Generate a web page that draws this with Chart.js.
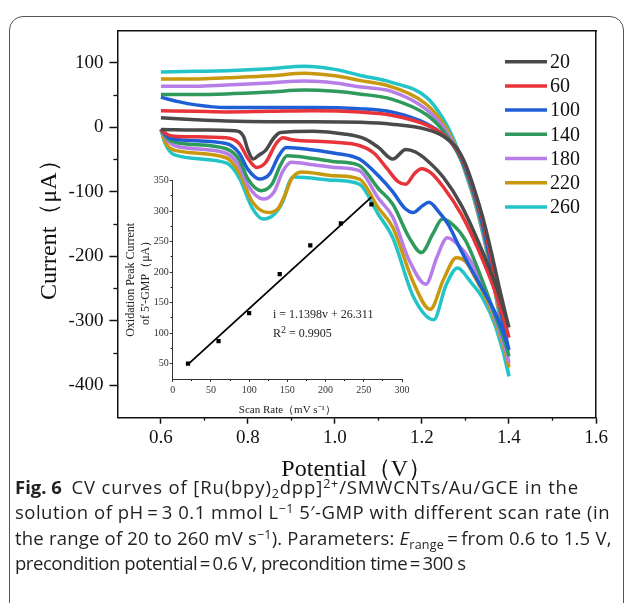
<!DOCTYPE html>
<html>
<head>
<meta charset="utf-8">
<script src="https://cdn.jsdelivr.net/npm/chart.js@4.4.1/dist/chart.umd.min.js"></script>
<style>
  html, body { margin: 0; padding: 0; background: #fff; }
  body { width: 630px; height: 603px; position: relative; overflow: hidden; }
  #frame {
    position: absolute; left: 9px; top: 16px; width: 615px; height: 640px;
    border: 1.5px solid #555; border-radius: 14px; box-sizing: border-box;
  }
  #main { position: absolute; left: 0; top: 0; }
  #inset { position: absolute; left: 110px; top: 160px; }
  .eq {
    position: absolute; font-family: "Liberation Serif", serif; font-size: 12px;
    line-height: 14px; color: #222; white-space: nowrap;
  }
  .eq sup { font-size: 10px; line-height: 0; vertical-align: 4px; }
  #caption {
    position: absolute; left: 15px; top: 474px; font-family: "Open Sans", sans-serif;
    font-size: 18.5px; line-height: 25.3px; color: #231f20; white-space: nowrap;
  }
  #caption div { height: 25.3px; }
  #caption sup, #caption sub { font-size: 12.5px; line-height: 0; }
  #caption sup { vertical-align: 6px; }
  #caption sub { vertical-align: -4px; }
</style>
</head>
<body>
<div id="frame"></div>
<canvas id="main" width="630" height="490"></canvas>
<canvas id="inset" width="310" height="265"></canvas>
<div class="eq" style="left:273px; top:307px;">i = 1.1398v + 26.311</div>
<div class="eq" style="left:273px; top:326px;">R<sup>2</sup> = 0.9905</div>
<div id="caption">
  <div><b>Fig. 6</b>&nbsp; <span style="letter-spacing:0.85px">CV curves of [Ru(bpy)<sub>2</sub>dpp]<sup>2+</sup>/SMWCNTs/Au/GCE in the</span></div>
  <div style="letter-spacing:0.5px">solution of pH&#8201;=&#8201;3 0.1 mmol L<sup>−1</sup> 5′-GMP with different scan rate (in</div>
  <div style="letter-spacing:0.2px">the range of 20 to 260 mV s<sup>−1</sup>). Parameters: <i>E</i><sub>range</sub>&#8201;=&#8201;from 0.6 to 1.5 V,</div>
  <div style="letter-spacing:-0.45px">precondition potential&#8201;=&#8201;0.6 V, precondition time&#8201;=&#8201;300 s</div>
</div>

<script>
// scan rates (mV/s) and their colours
const rates = [20, 60, 100, 140, 180, 220, 260];
const colors = ['#4a4a4a', '#e8333b', '#1f5fd6', '#2e9b5c', '#b67ee6', '#c8980e', '#22c4c8'];

// axis ticks of the main plot
const potentialTicks = [0.6, 0.8, 1.0, 1.2, 1.4, 1.6];
const potentialMinor = [0.7, 0.9, 1.1, 1.3, 1.5];
const currentTicks = [-400, -300, -200, -100, 0, 100];
const currentMinor = [-350, -250, -150, -50, 50];

// CV curves: forward scan 0.6 -> 1.4 V, reverse scan 1.4 -> 0.6 V, [V, uA]
const fwd20 = [[0.6,-3],[0.7,-4],[0.77,-5],[0.79,-14],[0.80,-35],[0.812,-49],[0.825,-43],[0.84,-36],[0.86,-16],[0.875,-8],[0.95,-6],[1.02,-10],[1.07,-18],[1.10,-31],[1.133,-49],[1.163,-34],[1.185,-38],[1.21,-50],[1.25,-78],[1.29,-120],[1.33,-178],[1.37,-245],[1.40,-310]];
const rev20 = [[1.38,-255],[1.36,-195],[1.34,-140],[1.32,-95],[1.30,-57],[1.28,-32],[1.25,-14],[1.21,-3],[1.13,5],[1.06,8],[0.95,9],[0.85,9],[0.75,10],[0.68,12],[0.6,15]];

const fwd60 = [[0.6,-3],[0.615,-11],[0.64,-14],[0.75,-16],[0.78,-25],[0.80,-48],[0.82,-62],[0.84,-55],[0.865,-25],[0.88,-16],[0.90,-19],[1.0,-23],[1.056,-28],[1.09,-40],[1.12,-64],[1.145,-84],[1.163,-88],[1.182,-72],[1.199,-64],[1.22,-70],[1.25,-93],[1.29,-134],[1.33,-190],[1.37,-258],[1.40,-326]];
const rev60 = [[1.38,-270],[1.36,-205],[1.34,-145],[1.32,-98],[1.30,-60],[1.28,-34],[1.25,-12],[1.21,4],[1.13,19],[1.056,24],[0.95,26],[0.85,25],[0.75,24],[0.68,25],[0.6,26]];

const fwd100 = [[0.6,-3],[0.615,-14],[0.64,-19],[0.75,-25],[0.78,-40],[0.80,-65],[0.827,-80],[0.85,-72],[0.87,-45],[0.888,-31],[0.95,-35],[1.0,-40],[1.056,-49],[1.10,-75],[1.133,-100],[1.16,-125],[1.18,-132],[1.20,-122],[1.216,-116],[1.24,-132],[1.26,-150],[1.29,-191],[1.33,-240],[1.37,-290],[1.40,-345]];
const rev100 = [[1.38,-280],[1.36,-215],[1.34,-152],[1.32,-102],[1.30,-63],[1.28,-35],[1.25,-12],[1.21,6],[1.13,24],[1.056,29],[0.95,31],[0.85,31],[0.75,31],[0.68,35],[0.64,40],[0.6,47]];

const fwd140 = [[0.6,-3],[0.615,-17],[0.64,-24],[0.75,-33],[0.78,-50],[0.80,-80],[0.83,-98],[0.855,-88],[0.875,-58],[0.89,-44],[0.95,-48],[1.0,-53],[1.056,-59],[1.10,-95],[1.133,-119],[1.17,-170],[1.199,-194],[1.225,-165],[1.247,-142],[1.27,-150],[1.30,-175],[1.33,-222],[1.37,-295],[1.40,-355]];
const rev140 = [[1.38,-285],[1.36,-220],[1.34,-157],[1.32,-106],[1.30,-66],[1.28,-37],[1.25,-6],[1.21,20],[1.13,44],[1.056,52],[1.0,56],[0.93,58],[0.85,55],[0.75,52],[0.68,51],[0.6,51]];

const fwd180 = [[0.6,-3],[0.615,-20],[0.64,-30],[0.75,-40],[0.78,-60],[0.80,-90],[0.835,-111],[0.86,-100],[0.88,-68],[0.90,-54],[0.95,-58],[1.0,-62],[1.056,-67],[1.10,-110],[1.133,-139],[1.17,-205],[1.209,-243],[1.235,-200],[1.258,-171],[1.28,-180],[1.31,-205],[1.34,-245],[1.37,-300],[1.40,-365]];
const rev180 = [[1.38,-290],[1.36,-222],[1.34,-160],[1.32,-108],[1.30,-67],[1.28,-35],[1.25,0],[1.21,28],[1.13,56],[1.056,63],[1.0,69],[0.93,72],[0.85,69],[0.75,66],[0.68,64],[0.6,64]];

const fwd220 = [[0.6,-3],[0.612,-25],[0.635,-36],[0.75,-47],[0.78,-70],[0.81,-115],[0.846,-132],[0.87,-125],[0.885,-105],[0.90,-80],[0.923,-69],[1.0,-75],[1.056,-80],[1.10,-125],[1.133,-155],[1.18,-240],[1.219,-282],[1.25,-235],[1.279,-202],[1.30,-208],[1.32,-230],[1.36,-285],[1.40,-372]];
const rev220 = [[1.38,-295],[1.36,-225],[1.34,-162],[1.32,-110],[1.30,-68],[1.28,-33],[1.25,5],[1.21,36],[1.13,63],[1.056,73],[1.0,80],[0.93,84],[0.85,80],[0.75,77],[0.68,75],[0.6,75]];

const fwd260 = [[0.6,-3],[0.61,-25],[0.63,-42],[0.75,-55],[0.78,-78],[0.81,-125],[0.835,-142],[0.86,-135],[0.88,-115],[0.895,-85],[0.905,-77],[1.0,-82],[1.056,-88],[1.10,-135],[1.133,-171],[1.18,-262],[1.227,-298],[1.255,-245],[1.282,-218],[1.31,-238],[1.34,-265],[1.37,-310],[1.40,-386]];
const rev260 = [[1.38,-300],[1.36,-228],[1.34,-165],[1.32,-112],[1.30,-70],[1.28,-30],[1.25,12],[1.21,47],[1.13,70],[1.056,81],[1.0,90],[0.93,95],[0.85,91],[0.75,88],[0.68,87],[0.6,86]];

const forward = [fwd20, fwd60, fwd100, fwd140, fwd180, fwd220, fwd260];
const reverse = [rev20, rev60, rev100, rev140, rev180, rev220, rev260];

// inset: oxidation peak current vs scan rate
const insetRates = [20, 60, 100, 140, 180, 220, 260];
const insetPeak = [50, 87, 133, 197, 244, 280, 311];
const fitRates = [20, 260];
const fitPeak = [49, 323];
const insetXTicks = [0, 50, 100, 150, 200, 250, 300];
const insetXMinor = [25, 75, 125, 175, 225, 275];
const insetYTicks = [50, 100, 150, 200, 250, 300, 350];
const insetYMinor = [75, 125, 175, 225, 275, 325];

const SERIF = '"Liberation Serif", "Times New Roman", serif';
const INK = '#111';

function useTicks(list) {
    return scale => { scale.ticks = list.map(v => ({ value: v })); };
}

// main axis with labels
function mainAxis(pos, o) {
    return Object.assign({
        type: 'linear', position: pos, weight: 1,
        ticks: { color: INK, font: { family: SERIF, size: 19 }, autoSkip: false, maxRotation: 0 },
        grid: { drawOnChartArea: false, tickColor: INK, tickWidth: 1.5 },
        border: { color: INK, width: 1.5 }
    }, o);
}

// minor tick axis, zero size, sits next to the plot
function minorAxis(pos, min, max, list, len, w) {
    return {
        type: 'linear', position: pos, min: min, max: max, weight: 0,
        afterBuildTicks: useTicks(list),
        afterFit: s => { if (s.isHorizontal()) s.height = 0; else s.width = 0; },
        ticks: { display: false },
        grid: { drawOnChartArea: false, tickLength: len, tickColor: INK, tickWidth: w },
        border: { display: false }
    };
}

// bare frame line for top / right
function frameAxis(pos, min, max) {
    return {
        type: 'linear', position: pos, min: min, max: max,
        afterFit: s => { if (s.isHorizontal()) s.height = 0; else s.width = 0; },
        ticks: { display: false },
        grid: { display: false },
        border: { color: INK, width: 1.5 }
    };
}

const legendLines = {
    id: 'legendLines',
    afterDatasetsDraw(chart) {
        const { ctx, chartArea } = chart;
        ctx.save();
        ctx.font = '20px ' + SERIF;
        ctx.textBaseline = 'middle';
        ctx.fillStyle = INK;
        ctx.lineWidth = 3.5;
        chart.data.datasets.forEach((ds, i) => {
            const y = chartArea.top + 31 + i * 24.2;
            ctx.strokeStyle = ds.borderColor;
            ctx.beginPath();
            ctx.moveTo(chartArea.right - 91, y);
            ctx.lineTo(chartArea.right - 49, y);
            ctx.stroke();
            ctx.fillText(ds.label, chartArea.right - 46, y + 1);
        });
        ctx.restore();
    }
};

function initMain() {
    const datasets = rates.map((r, i) => ({
        label: String(r),
        data: forward[i].concat(reverse[i]).map(p => ({ x: p[0], y: p[1] })),
        borderColor: colors[i],
        borderWidth: 3.5,
        pointRadius: 0,
        cubicInterpolationMode: 'monotone',
        fill: false
    }));

    new Chart(document.getElementById('main'), {
        type: 'line',
        data: { datasets },
        plugins: [legendLines],
        options: {
            responsive: false,
            animation: false,
            events: [],
            layout: { padding: { left: 0, top: 30.7, right: 34, bottom: 0 } },
            plugins: { legend: { display: false }, tooltip: { enabled: false } },
            scales: {
                x: mainAxis('bottom', {
                    min: 0.5, max: 1.6,
                    afterBuildTicks: useTicks(potentialTicks),
                    afterFit: s => { s.height = 72.3; },
                    ticks: { color: INK, font: { family: SERIF, size: 19 }, padding: 3, maxRotation: 0, autoSkip: false,
                             callback: v => v.toFixed(1) },
                    grid: { drawOnChartArea: false, tickLength: 6, tickColor: INK, tickWidth: 1.5 },
                    title: { display: true, text: 'Potential（V）', color: INK,
                             font: { family: SERIF, size: 24 }, padding: { top: 0, bottom: 6 } }
                }),
                xMinor: minorAxis('bottom', 0.5, 1.6, potentialMinor, 3, 1.3),
                xTop: frameAxis('top', 0.5, 1.6),
                y: mainAxis('left', {
                    min: -450, max: 150,
                    afterBuildTicks: useTicks(currentTicks),
                    afterFit: s => { s.width = 117.4; },
                    ticks: { color: INK, font: { family: SERIF, size: 19 }, padding: 6 },
                    grid: { drawOnChartArea: false, tickLength: 8, tickColor: INK, tickWidth: 1.5 },
                    title: { display: true, text: 'Current（μA）', color: INK,
                             font: { family: SERIF, size: 24 }, padding: { top: 35.6, bottom: 0 } }
                }),
                yMinor: minorAxis('left', -450, 150, currentMinor, 4, 1.3),
                yRight: frameAxis('right', -450, 150)
            }
        }
    });
}

function initInset() {
    const small = { family: SERIF, size: 10 };
    new Chart(document.getElementById('inset'), {
        type: 'scatter',
        data: {
            datasets: [
                {
                    data: insetRates.map((v, i) => ({ x: v, y: insetPeak[i] })),
                    pointStyle: 'rect', pointRadius: 3, backgroundColor: '#000', borderColor: '#000', borderWidth: 0
                },
                {
                    type: 'line',
                    data: fitRates.map((v, i) => ({ x: v, y: fitPeak[i] })),
                    borderColor: '#000', borderWidth: 1.8, pointRadius: 0, fill: false
                }
            ]
        },
        options: {
            responsive: false,
            animation: false,
            events: [],
            layout: { padding: { left: 0, top: 20.7, right: 18, bottom: 0 } },
            plugins: { legend: { display: false }, tooltip: { enabled: false } },
            scales: {
                x: {
                    type: 'linear', position: 'bottom', min: 0, max: 300, weight: 1,
                    afterBuildTicks: useTicks(insetXTicks),
                    afterFit: s => { s.height = 46; },
                    ticks: { color: '#333', font: small, padding: 2, maxRotation: 0, autoSkip: false },
                    grid: { drawOnChartArea: false, tickLength: 3, tickColor: '#333', tickWidth: 1 },
                    border: { color: '#333', width: 1 },
                    title: { display: true, text: 'Scan Rate（mV s⁻¹）', color: '#222',
                             font: { family: SERIF, size: 11 }, padding: { top: 0, bottom: 8.4 } }
                },
                xMinor: minorAxis('bottom', 0, 300, insetXMinor, 2, 1),
                y: {
                    type: 'linear', position: 'left', min: 25, max: 350, weight: 1,
                    afterBuildTicks: useTicks(insetYTicks),
                    afterFit: s => { s.width = 62.7; },
                    ticks: { color: '#333', font: small, padding: 1 },
                    grid: { drawOnChartArea: false, tickLength: 3, tickColor: '#333', tickWidth: 1 },
                    border: { color: '#333', width: 1 },
                    title: { display: true, text: ['Oxidation Peak Current', 'of 5\'-GMP（μA）'], color: '#222',
                             font: { family: SERIF, size: 12 }, padding: { top: 13.8, bottom: 0 } }
                },
                yMinor: minorAxis('left', 25, 350, insetYMinor, 2, 1)
            }
        }
    });
}

document.addEventListener('DOMContentLoaded', () => {
    initMain();
    initInset();
});
</script>
</body>
</html>
